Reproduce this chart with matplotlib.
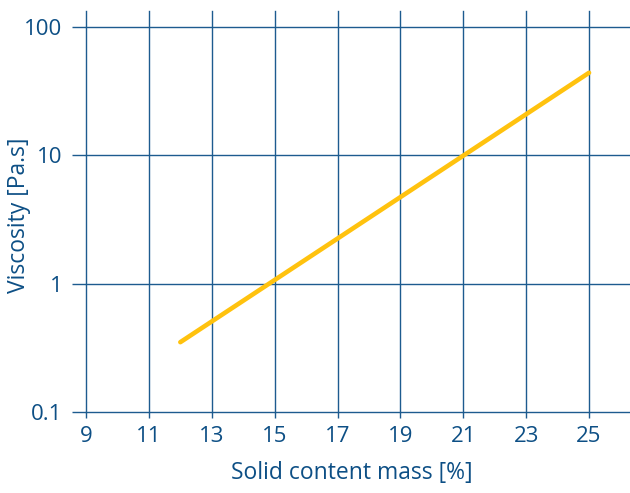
import matplotlib
matplotlib.use("Agg")
import matplotlib.pyplot as plt
from matplotlib.ticker import FixedLocator, FixedFormatter, NullLocator

# Data
solid_content = [12, 25]          # %
viscosity = [0.35, 44]            # Pa.s
x_ticks = [9, 11, 13, 15, 17, 19, 21, 23, 25]
y_ticks = [0.1, 1, 10, 100]
y_tick_labels = ["0.1", "1", "10", "100"]

grid_color = "#1d5b8f"
text_color = "#0d4f85"
line_color = "#ffc20e"

plt.rcParams['font.family'] = ['Open Sans', 'DejaVu Sans']

fig = plt.figure(figsize=(6.3, 4.93), dpi=100)
ax = fig.add_axes([86/630, (493-412)/493, 1 - 86/630, (412-11)/493])

ax.set_yscale('log')
ax.set_xlim(9, 9 + 544/31.44)
ax.set_ylim(0.1, 10**(2 + 16/128.3))

ax.plot(solid_content, viscosity, color=line_color, lw=3.3, solid_capstyle='round', zorder=3)

ax.xaxis.set_major_locator(FixedLocator(x_ticks))
ax.yaxis.set_major_locator(FixedLocator(y_ticks))
ax.yaxis.set_major_formatter(FixedFormatter(y_tick_labels))
ax.yaxis.set_minor_locator(NullLocator())
ax.xaxis.set_minor_locator(NullLocator())

ax.grid(True, which='major', color=grid_color, lw=1.0)
for gl in ax.get_xgridlines() + ax.get_ygridlines():
    gl.set_clip_on(False)
for s in ax.spines.values():
    s.set_visible(False)

ax.tick_params(axis='x', direction='out', length=4.3, width=1.0, color=grid_color,
               labelsize=16, labelcolor=text_color, pad=6)
ax.tick_params(axis='y', direction='out', length=10, width=1.0, color=grid_color,
               labelsize=16, labelcolor=text_color, pad=7)

ax.set_xlabel("Solid content mass [%]", fontsize=16.5, color=text_color)
ax.set_ylabel("Viscosity [Pa.s]", fontsize=16.5, color=text_color)
ax.xaxis.set_label_coords((352 - 86) / 544, (412 - 461) / 401)
ax.yaxis.set_label_coords((31 - 86) / 544, 0.5 - (215 - 211.5) / 401)

fig.savefig("out.png", dpi=100)
